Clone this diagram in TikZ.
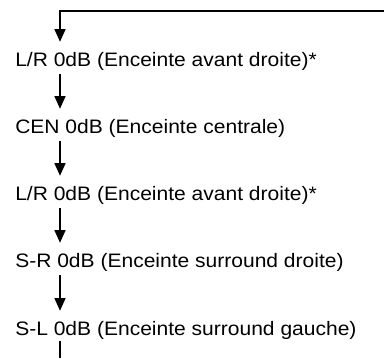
\documentclass[tikz,border=0pt]{standalone}
\usepackage{fontspec}
\setmainfont[FakeStretch=1.08]{Liberation Sans}
\usepackage{tikz}
\usetikzlibrary{positioning,arrows.meta,calc}

\begin{document}
\begin{tikzpicture}[
    x=0.75pt, y=-0.75pt,
    lvlnode/.style={anchor=base west, inner sep=0pt, text height=10.4pt, text depth=0pt, font=\fontsize{14.6pt}{17pt}\selectfont},
    flow/.style={draw, line width=1.7pt, -{Triangle[length=9.5pt, width=8pt]}, shorten <=6pt, shorten >=7.5pt},
    tail/.style={draw, line width=1.7pt}
]
\useasboundingbox (0,0) rectangle (384,358);

% loop back from the right edge, and the way out at the bottom
\coordinate (loop) at (384,11);
\coordinate (spine) at (60,0);
\coordinate (exit) at (60,358);

\node[lvlnode] (lrA) at (15,66)  {L/R 0dB (Enceinte avant droite)*};
\node[lvlnode] (cen) at (15,133) {CEN 0dB (Enceinte centrale)};
\node[lvlnode] (lrB) at (15,200) {L/R 0dB (Enceinte avant droite)*};
\node[lvlnode] (sr)  at (15,267) {S-R 0dB (Enceinte surround droite)};
\node[lvlnode] (sl)  at (15,335) {S-L 0dB (Enceinte surround gauche)};

\draw[flow, shorten <=0pt] (loop) -| (lrA.north -| spine);
\draw[flow] (lrA.south -| spine) -- (cen.north -| spine);
\draw[flow] (cen.south -| spine) -- (lrB.north -| spine);
\draw[flow] (lrB.south -| spine) -- (sr.north -| spine);
\draw[flow] (sr.south -| spine) -- (sl.north -| spine);
\draw[tail, shorten <=4pt] (sl.south -| spine) -- (exit);
\end{tikzpicture}
\end{document}
